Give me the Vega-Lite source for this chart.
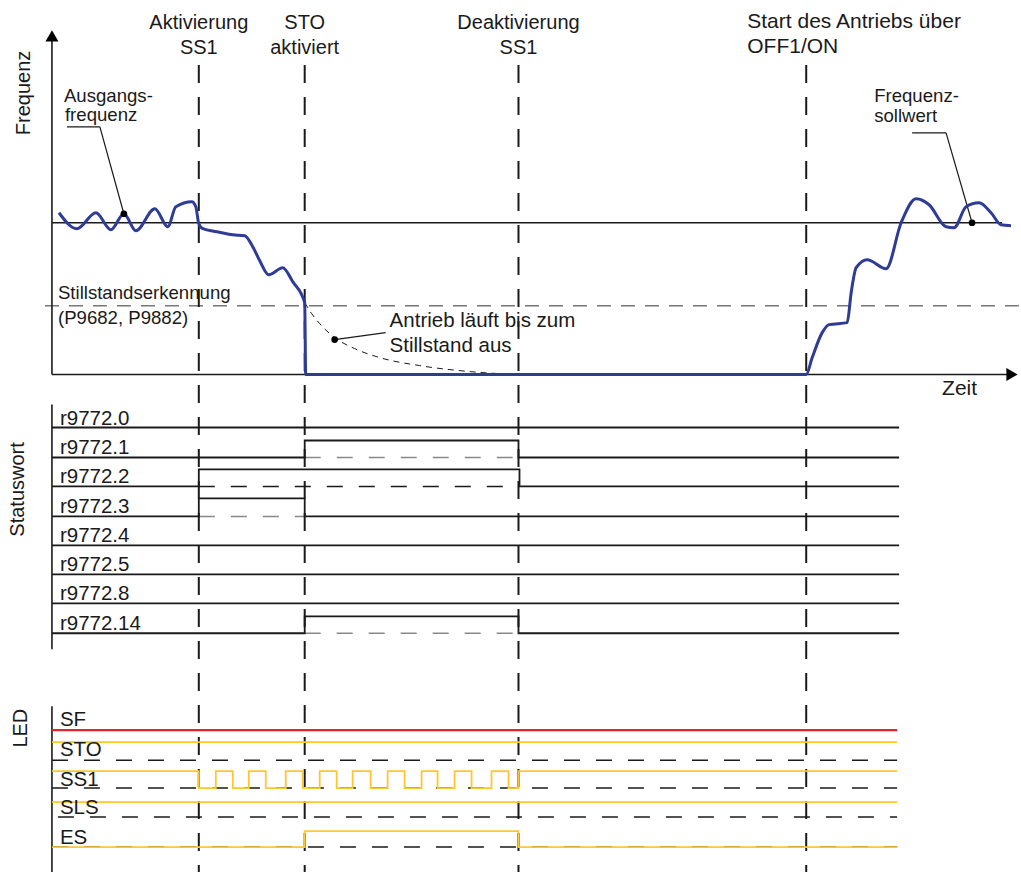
{
"$schema": "https://vega.github.io/schema/vega-lite/v6.json",
"width": 1021, "height": 873,
"autosize": {"type": "fit", "contains": "padding"},
"padding": 0,
"background": "white",
"config": {"view": {"stroke": null}, "text": {"font": "Liberation Sans", "color": "#1a1a1a"}},
"datasets": {
"vdash": [
 {"x": 199, "y": 65, "x2": 199, "y2": 873},
 {"x": 305, "y": 65, "x2": 305, "y2": 873},
 {"x": 519, "y": 65, "x2": 519, "y2": 873},
 {"x": 807, "y": 65, "x2": 807, "y2": 873}
],
"axes": [
 {"x": 52, "y": 40, "x2": 52, "y2": 375},
 {"x": 52, "y": 375, "x2": 1008, "y2": 375},
 {"x": 52, "y": 223, "x2": 1003, "y2": 223},
 {"x": 52, "y": 405, "x2": 52, "y2": 650},
 {"x": 52, "y": 707, "x2": 52, "y2": 873}
],
"leaders": [
 {"x": 67, "y": 127, "x2": 100, "y2": 127},
 {"x": 100, "y": 127, "x2": 124, "y2": 214},
 {"x": 913, "y": 133, "x2": 947, "y2": 133},
 {"x": 947, "y": 133, "x2": 973, "y2": 223},
 {"x": 335, "y": 340, "x2": 386, "y2": 333}
],
"standstill": [{"x": 45, "y": 306, "x2": 1021, "y2": 306}],
"grayDash": [
 {"x": 305, "y": 458, "x2": 519, "y2": 458},
 {"x": 199, "y": 517, "x2": 305, "y2": 517},
 {"x": 305, "y": 634, "x2": 519, "y2": 634}
],
"blackDash": [
 {"x": 199, "y": 487, "x2": 519, "y2": 487},
 {"x": 52, "y": 761, "x2": 898, "y2": 761},
 {"x": 52, "y": 789, "x2": 898, "y2": 789},
 {"x": 58, "y": 818, "x2": 898, "y2": 818},
 {"x": 52, "y": 848, "x2": 898, "y2": 848}
],
"curve": [
 {"i": 1, "x": 59, "y": 213}, {"i": 2, "x": 77, "y": 229}, {"i": 3, "x": 96, "y": 213},
 {"i": 4, "x": 111, "y": 230}, {"i": 5, "x": 124, "y": 214}, {"i": 6, "x": 136, "y": 231},
 {"i": 7, "x": 155, "y": 209}, {"i": 8, "x": 168, "y": 227}, {"i": 9, "x": 176, "y": 207},
 {"i": 10, "x": 192, "y": 202}, {"i": 11, "x": 196, "y": 207}, {"i": 12, "x": 199, "y": 224},
 {"i": 13, "x": 203, "y": 229}, {"i": 14, "x": 217, "y": 232}, {"i": 15, "x": 233, "y": 235},
 {"i": 16, "x": 245, "y": 236}, {"i": 17, "x": 253, "y": 247}, {"i": 18, "x": 260, "y": 261},
 {"i": 19, "x": 269, "y": 275}, {"i": 20, "x": 283, "y": 268}, {"i": 21, "x": 293, "y": 282},
 {"i": 22, "x": 305, "y": 303}, {"i": 23, "x": 306, "y": 375}, {"i": 24, "x": 807, "y": 375},
 {"i": 25, "x": 813, "y": 358}, {"i": 26, "x": 823, "y": 333}, {"i": 27, "x": 830, "y": 325},
 {"i": 28, "x": 848, "y": 323}, {"i": 29, "x": 852, "y": 293}, {"i": 30, "x": 857, "y": 268},
 {"i": 31, "x": 868, "y": 260}, {"i": 32, "x": 887, "y": 269}, {"i": 33, "x": 902, "y": 223},
 {"i": 34, "x": 917, "y": 199}, {"i": 35, "x": 930, "y": 205}, {"i": 36, "x": 947, "y": 227},
 {"i": 37, "x": 955, "y": 228}, {"i": 38, "x": 967, "y": 207}, {"i": 39, "x": 980, "y": 203},
 {"i": 40, "x": 992, "y": 213}, {"i": 41, "x": 1002, "y": 225}, {"i": 42, "x": 1012, "y": 226}
],
"coast": [
 {"i": 1, "x": 305, "y": 303}, {"i": 2, "x": 312, "y": 314}, {"i": 3, "x": 320, "y": 324},
 {"i": 4, "x": 335, "y": 338}, {"i": 5, "x": 355, "y": 349}, {"i": 6, "x": 380, "y": 358},
 {"i": 7, "x": 420, "y": 366}, {"i": 8, "x": 470, "y": 372}, {"i": 9, "x": 520, "y": 375}
],
"dots": [{"x": 124, "y": 214}, {"x": 335, "y": 340}, {"x": 973, "y": 223}],
"arrowUp": [{"x": 52, "y": 36}],
"arrowRight": [{"x": 1013, "y": 375}],
"sig": [
 {"id": "r0", "i": 1, "x": 52, "y": 428}, {"id": "r0", "i": 2, "x": 900, "y": 428},
 {"id": "r1", "i": 1, "x": 52, "y": 458}, {"id": "r1", "i": 2, "x": 305, "y": 458}, {"id": "r1", "i": 3, "x": 305, "y": 441}, {"id": "r1", "i": 4, "x": 519, "y": 441}, {"id": "r1", "i": 5, "x": 519, "y": 458}, {"id": "r1", "i": 6, "x": 900, "y": 458},
 {"id": "r2", "i": 1, "x": 52, "y": 487}, {"id": "r2", "i": 2, "x": 199, "y": 487}, {"id": "r2", "i": 3, "x": 199, "y": 470}, {"id": "r2", "i": 4, "x": 520, "y": 470}, {"id": "r2", "i": 5, "x": 520, "y": 487}, {"id": "r2", "i": 6, "x": 900, "y": 487},
 {"id": "r3", "i": 1, "x": 52, "y": 517}, {"id": "r3", "i": 2, "x": 199, "y": 517}, {"id": "r3", "i": 3, "x": 199, "y": 499}, {"id": "r3", "i": 4, "x": 305, "y": 499}, {"id": "r3", "i": 5, "x": 305, "y": 517}, {"id": "r3", "i": 6, "x": 900, "y": 517},
 {"id": "r4", "i": 1, "x": 52, "y": 546}, {"id": "r4", "i": 2, "x": 900, "y": 546},
 {"id": "r5", "i": 1, "x": 52, "y": 575}, {"id": "r5", "i": 2, "x": 900, "y": 575},
 {"id": "r8", "i": 1, "x": 52, "y": 604}, {"id": "r8", "i": 2, "x": 900, "y": 604},
 {"id": "r14", "i": 1, "x": 52, "y": 634}, {"id": "r14", "i": 2, "x": 305, "y": 634}, {"id": "r14", "i": 3, "x": 305, "y": 617}, {"id": "r14", "i": 4, "x": 519, "y": 617}, {"id": "r14", "i": 5, "x": 519, "y": 634}, {"id": "r14", "i": 6, "x": 900, "y": 634}
],
"ledRed": [{"x": 52, "y": 731, "x2": 898, "y2": 731}],
"led": [
 {"id": "STO", "i": 1, "x": 52, "y": 743}, {"id": "STO", "i": 2, "x": 898, "y": 743},
 {"id": "SLS", "i": 1, "x": 52, "y": 803}, {"id": "SLS", "i": 2, "x": 898, "y": 803},
 {"id": "ES", "i": 1, "x": 52, "y": 848}, {"id": "ES", "i": 2, "x": 305, "y": 848}, {"id": "ES", "i": 3, "x": 305, "y": 832}, {"id": "ES", "i": 4, "x": 519, "y": 832}, {"id": "ES", "i": 5, "x": 519, "y": 848}, {"id": "ES", "i": 6, "x": 898, "y": 848},
 {"id": "SS1", "i": 1, "x": 52, "y": 772}, {"id": "SS1", "i": 2, "x": 199, "y": 772}, {"id": "SS1", "i": 3, "x": 199, "y": 789},
 {"id": "SS1", "i": 4, "x": 216, "y": 789}, {"id": "SS1", "i": 5, "x": 216, "y": 772}, {"id": "SS1", "i": 6, "x": 233, "y": 772}, {"id": "SS1", "i": 7, "x": 233, "y": 789},
 {"id": "SS1", "i": 8, "x": 249, "y": 789}, {"id": "SS1", "i": 9, "x": 249, "y": 772}, {"id": "SS1", "i": 10, "x": 266, "y": 772}, {"id": "SS1", "i": 11, "x": 266, "y": 789},
 {"id": "SS1", "i": 12, "x": 286, "y": 789}, {"id": "SS1", "i": 13, "x": 286, "y": 772}, {"id": "SS1", "i": 14, "x": 303, "y": 772}, {"id": "SS1", "i": 15, "x": 303, "y": 789},
 {"id": "SS1", "i": 16, "x": 320, "y": 789}, {"id": "SS1", "i": 17, "x": 320, "y": 772}, {"id": "SS1", "i": 18, "x": 337, "y": 772}, {"id": "SS1", "i": 19, "x": 337, "y": 789},
 {"id": "SS1", "i": 20, "x": 353, "y": 789}, {"id": "SS1", "i": 21, "x": 353, "y": 772}, {"id": "SS1", "i": 22, "x": 371, "y": 772}, {"id": "SS1", "i": 23, "x": 371, "y": 789},
 {"id": "SS1", "i": 24, "x": 388, "y": 789}, {"id": "SS1", "i": 25, "x": 388, "y": 772}, {"id": "SS1", "i": 26, "x": 405, "y": 772}, {"id": "SS1", "i": 27, "x": 405, "y": 789},
 {"id": "SS1", "i": 28, "x": 422, "y": 789}, {"id": "SS1", "i": 29, "x": 422, "y": 772}, {"id": "SS1", "i": 30, "x": 438, "y": 772}, {"id": "SS1", "i": 31, "x": 438, "y": 789},
 {"id": "SS1", "i": 32, "x": 455, "y": 789}, {"id": "SS1", "i": 33, "x": 455, "y": 772}, {"id": "SS1", "i": 34, "x": 472, "y": 772}, {"id": "SS1", "i": 35, "x": 472, "y": 789},
 {"id": "SS1", "i": 36, "x": 492, "y": 789}, {"id": "SS1", "i": 37, "x": 492, "y": 772}, {"id": "SS1", "i": 38, "x": 509, "y": 772}, {"id": "SS1", "i": 39, "x": 509, "y": 789},
 {"id": "SS1", "i": 40, "x": 519, "y": 789}, {"id": "SS1", "i": 41, "x": 519, "y": 772}, {"id": "SS1", "i": 42, "x": 898, "y": 772}
],
"hdrCenter": [
 {"x": 199, "y": 29, "t": "Aktivierung"}, {"x": 199, "y": 54, "t": "SS1"},
 {"x": 305, "y": 29, "t": "STO"}, {"x": 305, "y": 54, "t": "aktiviert"},
 {"x": 519, "y": 29, "t": "Deaktivierung"}, {"x": 519, "y": 54, "t": "SS1"}
],
"hdrLeft": [
 {"x": 748, "y": 28, "t": "Start des Antriebs über"}, {"x": 748, "y": 53, "t": "OFF1/ON"},
 {"x": 943, "y": 395, "t": "Zeit"}
],
"notes": [
 {"x": 64, "y": 102, "t": "Ausgangs-"}, {"x": 65, "y": 121, "t": "frequenz"},
 {"x": 875, "y": 102, "t": "Frequenz-"}, {"x": 875, "y": 122, "t": "sollwert"},
 {"x": 58, "y": 299, "t": "Stillstandserkennung"}, {"x": 58, "y": 324, "t": "(P9682, P9882)"}
],
"bigNotes": [
 {"x": 390, "y": 327, "t": "Antrieb läuft bis zum"}, {"x": 390, "y": 352, "t": "Stillstand aus"}
],
"rowLabels": [
 {"x": 60, "y": 425, "t": "r9772.0"}, {"x": 60, "y": 455, "t": "r9772.1"},
 {"x": 60, "y": 484, "t": "r9772.2"}, {"x": 60, "y": 514, "t": "r9772.3"},
 {"x": 60, "y": 543, "t": "r9772.4"}, {"x": 60, "y": 572, "t": "r9772.5"},
 {"x": 60, "y": 601, "t": "r9772.8"}, {"x": 60, "y": 631, "t": "r9772.14"},
 {"x": 60, "y": 727, "t": "SF"}, {"x": 60, "y": 757, "t": "STO"},
 {"x": 60, "y": 787, "t": "SS1"}, {"x": 60, "y": 815, "t": "SLS"},
 {"x": 60, "y": 845, "t": "ES"}
],
"rotLabels": [
 {"x": 24, "y": 93, "t": "Frequenz"}, {"x": 18, "y": 490, "t": "Statuswort"}, {"x": 21, "y": 729, "t": "LED"}
]
},
"encoding": {
 "x": {"field": "x", "type": "quantitative", "scale": {"domain": [0, 1021], "nice": false, "zero": false}, "axis": null},
 "y": {"field": "y", "type": "quantitative", "scale": {"domain": [0, 873], "nice": false, "zero": false, "reverse": true}, "axis": null}
},
"layer": [
 {"data": {"name": "standstill"}, "mark": {"type": "rule", "color": "#777777", "strokeWidth": 1.5, "strokeDash": [14, 10]}, "encoding": {"x2": {"field": "x2"}, "y2": {"field": "y2"}}},
 {"data": {"name": "grayDash"}, "mark": {"type": "rule", "color": "#888888", "strokeWidth": 1.5, "strokeDash": [16, 16]}, "encoding": {"x2": {"field": "x2"}, "y2": {"field": "y2"}}},
 {"data": {"name": "blackDash"}, "mark": {"type": "rule", "color": "#1a1a1a", "strokeWidth": 1.5, "strokeDash": [16, 16]}, "encoding": {"x2": {"field": "x2"}, "y2": {"field": "y2"}}},
 {"data": {"name": "vdash"}, "mark": {"type": "rule", "color": "#1a1a1a", "strokeWidth": 2, "strokeDash": [18, 14]}, "encoding": {"x2": {"field": "x2"}, "y2": {"field": "y2"}}},
 {"data": {"name": "axes"}, "mark": {"type": "rule", "color": "#1a1a1a", "strokeWidth": 1.6}, "encoding": {"x2": {"field": "x2"}, "y2": {"field": "y2"}}},
 {"data": {"name": "leaders"}, "mark": {"type": "rule", "color": "#1a1a1a", "strokeWidth": 1.2}, "encoding": {"x2": {"field": "x2"}, "y2": {"field": "y2"}}},
 {"data": {"name": "coast"}, "mark": {"type": "line", "color": "#1a1a1a", "strokeWidth": 1, "strokeDash": [6, 5], "interpolate": "monotone"}, "encoding": {"order": {"field": "i"}}},
 {"data": {"name": "sig"}, "mark": {"type": "line", "color": "#1a1a1a", "strokeWidth": 1.8}, "encoding": {"detail": {"field": "id"}, "order": {"field": "i"}}},
 {"data": {"name": "ledRed"}, "mark": {"type": "rule", "color": "#e3262b", "strokeWidth": 2.2}, "encoding": {"x2": {"field": "x2"}, "y2": {"field": "y2"}}},
 {"data": {"name": "led"}, "mark": {"type": "line", "color": "#ffc62e", "strokeWidth": 1.8}, "encoding": {"detail": {"field": "id"}, "order": {"field": "i"}}},
 {"data": {"name": "curve"}, "mark": {"type": "line", "color": "#2e3c96", "strokeWidth": 3, "interpolate": "monotone"}, "encoding": {"order": {"field": "i"}}},
 {"data": {"name": "dots"}, "mark": {"type": "point", "shape": "circle", "filled": true, "color": "#000000", "size": 45, "opacity": 1}},
 {"data": {"name": "arrowUp"}, "mark": {"type": "point", "shape": "triangle-up", "filled": true, "color": "#000000", "size": 170, "opacity": 1}},
 {"data": {"name": "arrowRight"}, "mark": {"type": "point", "shape": "triangle-right", "filled": true, "color": "#000000", "size": 170, "opacity": 1}},
 {"data": {"name": "hdrCenter"}, "mark": {"type": "text", "fontSize": 20, "align": "center", "baseline": "alphabetic"}, "encoding": {"text": {"field": "t"}}},
 {"data": {"name": "hdrLeft"}, "mark": {"type": "text", "fontSize": 21, "align": "left", "baseline": "alphabetic"}, "encoding": {"text": {"field": "t"}}},
 {"data": {"name": "notes"}, "mark": {"type": "text", "fontSize": 18.6, "align": "left", "baseline": "alphabetic"}, "encoding": {"text": {"field": "t"}}},
 {"data": {"name": "bigNotes"}, "mark": {"type": "text", "fontSize": 20.5, "align": "left", "baseline": "alphabetic"}, "encoding": {"text": {"field": "t"}}},
 {"data": {"name": "rowLabels"}, "mark": {"type": "text", "fontSize": 20.5, "align": "left", "baseline": "alphabetic"}, "encoding": {"text": {"field": "t"}}},
 {"data": {"name": "rotLabels"}, "mark": {"type": "text", "fontSize": 20, "align": "center", "baseline": "middle", "angle": 270}, "encoding": {"text": {"field": "t"}}}
]
}
